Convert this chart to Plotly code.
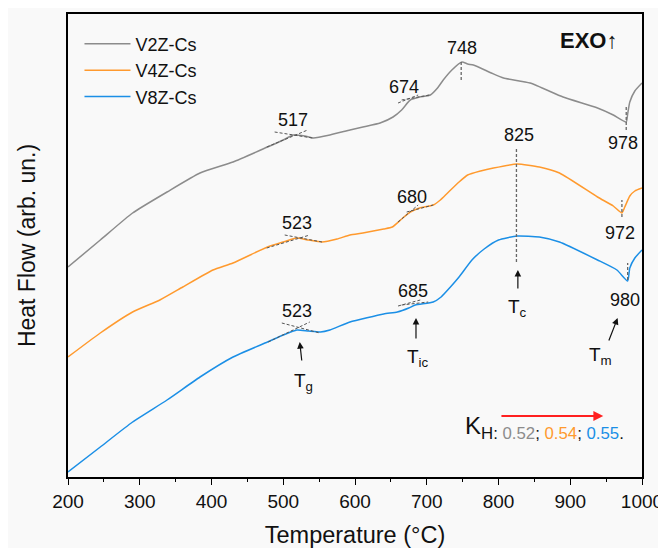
import plotly.graph_objects as go

# ---- data (temperature in °C, heat flow in arbitrary units) ----
T_v2 = [200, 245, 290, 338, 384, 430, 478, 500, 514, 530, 542, 565, 593, 611, 635, 653, 665, 677, 690, 705, 715, 723, 735, 749, 757, 765, 790, 807, 844, 890, 938, 960, 978, 980, 983, 990, 1000]
HF_v2 = [210, 237, 264, 285, 304, 315, 330, 337, 342, 341, 339, 342, 347, 350, 354, 360, 367, 377, 380, 382, 389, 397, 407, 415, 413, 412, 404, 399, 394, 380, 369, 362, 355, 363, 375, 386, 394]

T_v4 = [200, 245, 290, 328, 360, 402, 430, 478, 500, 519, 535, 554, 575, 593, 611, 640, 652, 665, 677, 690, 709, 719, 729, 745, 757, 775, 793, 826, 857, 885, 938, 960, 972, 976, 983, 990, 1000]
HF_v4 = [120, 144, 165, 177, 190, 207, 214, 230, 235, 239, 237, 235, 238, 242, 244, 248, 250, 258, 265, 269, 272, 277, 284, 295, 302, 306, 309, 313, 310, 304, 280, 271, 264, 270, 281, 286, 289]

T_v8 = [200, 245, 290, 338, 384, 430, 478, 500, 519, 535, 552, 565, 593, 640, 659, 675, 684, 709, 720, 733, 745, 763, 780, 800, 826, 857, 885, 938, 965, 980, 983, 990, 1000]
HF_v8 = [5, 30, 55, 77, 100, 120, 135, 142, 147, 146, 145, 147, 155, 163, 165, 169, 172, 175, 180, 190, 200, 217, 228, 237, 241, 240, 235, 217, 207, 196, 209, 219, 227]

series_names = ["V2Z-Cs", "V4Z-Cs", "V8Z-Cs"]
series_colors = ["#8c8c8c", "#ff9a2e", "#1b8fe6"]

x_ticks = [200, 300, 400, 500, 600, 700, 800, 900, 1000]

# temperature labels: (text, T position, HF position)
peak_labels = [("517", 514, 357), ("674", 668, 390), ("748", 749, 429), ("978", 973, 334),
               ("523", 519, 254), ("680", 679, 280), ("825", 829, 342), ("972", 969, 244),
               ("523", 519, 166), ("685", 681, 186), ("980", 976, 177)]

# tangent construction lines: (T0, HF0, T1, HF1)
tangent_lines = [(488, 345, 541, 339), (477, 330, 534, 347),
                 (502, 242, 554, 235), (477, 229, 537, 242),
                 (498, 154, 551, 144), (479, 135, 537, 155),
                 (660, 374, 688, 382), (665, 377, 704, 382),
                 (660, 255, 688, 272), (672, 265, 709, 272),
                 (665, 172, 702, 175), (660, 171, 691, 177)]

# vertical marker lines: (T, HF bottom, HF top)
vertical_marks = [(748, 397, 415), (825, 215, 330), (978, 347, 370), (972, 260, 277), (980, 197, 214)]

# transition arrows: (label, head T, head HF, tail T, tail HF, label T, label HF)
transition_arrows = [("T<sub>g</sub>", 523, 135, 526, 115, 528, 95),
                     ("T<sub>ic</sub>", 685, 159, 685, 137, 688, 119),
                     ("T<sub>c</sub>", 827, 207, 827, 187, 827, 169),
                     ("T<sub>m</sub>", 966, 159, 953, 135, 942, 121)]

FONT = "Arial, Liberation Sans, sans-serif"

fig = go.Figure()
for T, HF, name, color in zip([T_v2, T_v4, T_v8], [HF_v2, HF_v4, HF_v8], series_names, series_colors):
    fig.add_trace(go.Scatter(x=T, y=HF, mode="lines", name=name,
                             line=dict(color=color, width=1.5, shape="spline", smoothing=0.5)))

shapes = []
# white strip at right edge of the page (outside the light-grey figure area)
shapes.append(dict(type="rect", xref="paper", yref="paper", x0=1.028, x1=1.06, y0=-0.2, y1=1.03,
                   fillcolor="white", line=dict(width=0), layer="below"))
for x0, y0, x1, y1 in tangent_lines:
    shapes.append(dict(type="line", xref="x", yref="y", x0=x0, y0=y0, x1=x1, y1=y1,
                       line=dict(color="#555555", width=1, dash="3px,2px")))
for t, yb, yt in vertical_marks:
    shapes.append(dict(type="line", xref="x", yref="y", x0=t, x1=t, y0=yb, y1=yt,
                       line=dict(color="#666666", width=1.3, dash="3px,2px")))

annotations = []
for txt, t, hf in peak_labels:
    annotations.append(dict(x=t, y=hf, xref="x", yref="y", text=txt, showarrow=False,
                            font=dict(family=FONT, size=18, color="#111111")))
for lbl, hx, hy, tx, ty, lx, ly in transition_arrows:
    annotations.append(dict(x=hx, y=hy, ax=tx, ay=ty, xref="x", yref="y", axref="x", ayref="y",
                            text="", showarrow=True, arrowhead=2, arrowsize=1.1, arrowwidth=1.2,
                            arrowcolor="#111111"))
    annotations.append(dict(x=lx, y=ly, xref="x", yref="y", text=lbl, showarrow=False,
                            font=dict(family=FONT, size=19, color="#111111")))

# EXO marker
annotations.append(dict(x=926, y=437, xref="x", yref="y", text="<b>EXO↑</b>", showarrow=False,
                        font=dict(family=FONT, size=22, color="#111111")))
# red trend arrow
annotations.append(dict(x=946, y=61, ax=802, ay=61, xref="x", yref="y", axref="x", ayref="y",
                        text="", showarrow=True, arrowhead=2, arrowsize=1.1, arrowwidth=1.8,
                        arrowcolor="#ff2020"))
kh_text = ("K<sub>H: <span style='color:%s'>0.52</span>; <span style='color:%s'>0.54</span>; "
           "<span style='color:%s'>0.55</span>.</sub>") % tuple(series_colors)
annotations.append(dict(x=750, y=50, xref="x", yref="y", xanchor="left", yanchor="middle",
                        text=kh_text, showarrow=False,
                        font=dict(family=FONT, size=24, color="#111111")))

fig.update_layout(
    width=658, height=548,
    margin=dict(l=60, r=24, t=6, b=79, autoexpand=False),
    paper_bgcolor="#f9f9f9", plot_bgcolor="#f9f9f9",
    font=dict(family=FONT, color="#111111"),
    shapes=shapes, annotations=annotations,
    showlegend=True,
    legend=dict(x=0.02, y=0.975, xanchor="left", yanchor="top", bgcolor="rgba(0,0,0,0)",
                font=dict(family=FONT, size=18, color="#111111"), itemwidth=46,
                tracegroupgap=0),
)
fig.update_xaxes(range=[200, 1000], tickvals=x_ticks, ticks="outside", ticklen=6, tickwidth=1.3,
                 tickcolor="black", showline=True, linecolor="black", linewidth=1.5, mirror=True,
                 showgrid=False, zeroline=False, automargin=False, ticklabeloverflow="allow",
                 minor=dict(dtick=50, ticks="outside", ticklen=3, tickwidth=1.2, tickcolor="black"),
                 tickfont=dict(family=FONT, size=19, color="#111111"),
                 title=dict(text="Temperature (°C)", font=dict(family=FONT, size=23.5, color="#111111"), standoff=16))
fig.update_yaxes(range=[0, 463], showticklabels=False, ticks="", showline=True, linecolor="black",
                 linewidth=1.5, mirror=True, showgrid=False, zeroline=False, automargin=False,
                 title=dict(text="Heat Flow (arb. un.)", font=dict(family=FONT, size=23, color="#111111"), standoff=24))

fig.write_html("out.html")
